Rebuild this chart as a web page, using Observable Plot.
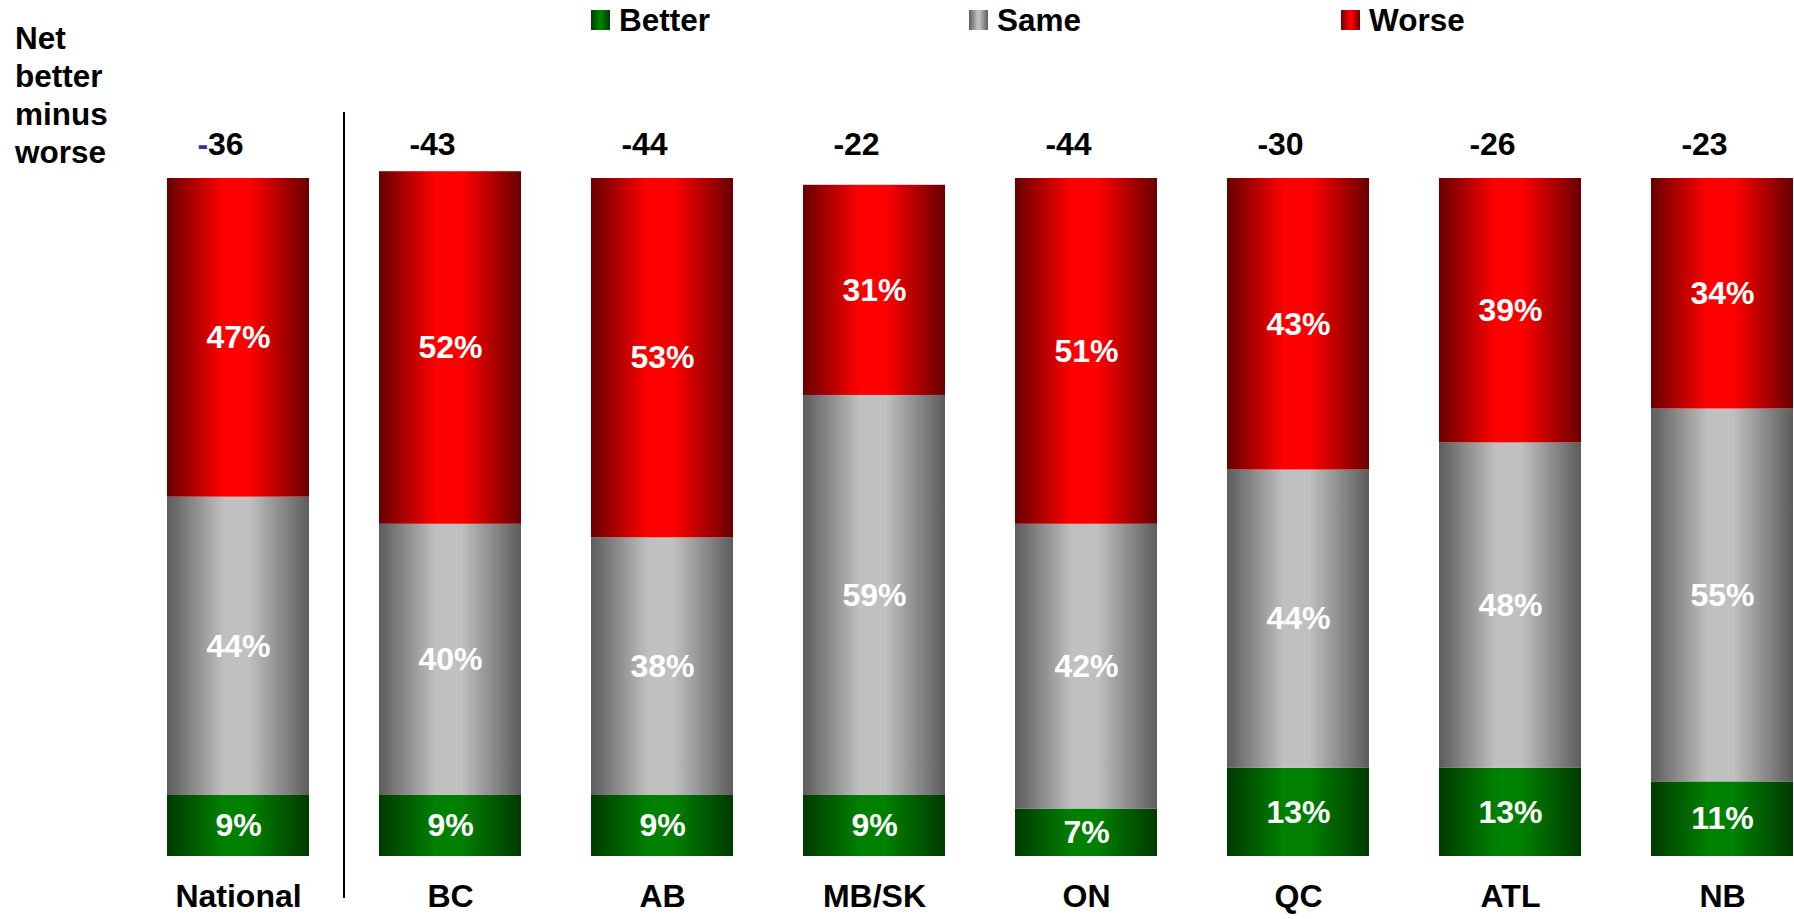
<!DOCTYPE html>
<html>
<head>
<meta charset="utf-8">
<script src="https://cdn.jsdelivr.net/npm/d3@7"></script>
<script src="https://cdn.jsdelivr.net/npm/@observablehq/plot@0.6"></script>
<style>
  html, body { margin: 0; padding: 0; background: #fff; }
  body { font-family: "Liberation Sans", Arial, Helvetica, sans-serif; font-weight: bold; }
  #wrap { position: relative; width: 1794px; height: 919px; overflow: hidden; }
  #title { position: absolute; left: 15px; top: 19px; font-size: 31.5px; line-height: 38px; color: #000; }
  .leg { position: absolute; top: 5px; font-size: 31.5px; line-height: 31px; color: #000; white-space: nowrap; }
  .sw { position: absolute; top: 10px; width: 19px; height: 20px; }
  #chart { position: absolute; left: 0; top: 0; }
</style>
</head>
<body>
<div id="wrap">
  <div id="chart"></div>
  <div id="title">Net<br>better<br>minus<br>worse</div>
</div>
<script>
// ---- data ----
const regions = ["National", "BC", "AB", "MB/SK", "ON", "QC", "ATL", "NB"];
const better  = [9, 9, 9, 9, 7, 13, 13, 11];
const same    = [44, 40, 38, 59, 42, 44, 48, 55];
const worse   = [47, 52, 53, 31, 51, 43, 39, 34];
const net     = [-36, -43, -44, -22, -44, -30, -26, -23];
const seriesNames = ["Better", "Same", "Worse"];

// ---- styles ----
const gradients = {
  Better: ["#003a00", "#008000"],
  Same:   ["#5c5c5c", "#c0c0c0"],
  Worse:  ["#680000", "#ff0000"]
};
const legendLeft = [591, 969, 1341];

const rows = [];
regions.forEach((r, i) => {
  rows.push({region: r, series: "Better", value: better[i]});
  rows.push({region: r, series: "Same", value: same[i]});
  rows.push({region: r, series: "Worse", value: worse[i]});
});
const netRows = regions.map((r, i) => ({region: r, net: net[i]}));

const font = '"Liberation Sans", Arial, Helvetica, sans-serif';

const chart = Plot.plot({
  width: 1794,
  height: 919,
  marginLeft: 166,
  marginRight: 0,
  marginTop: 178,
  marginBottom: 63,
  style: {fontFamily: font, fontWeight: "bold", background: "transparent", overflow: "visible"},
  x: {domain: regions, paddingInner: 0.329, paddingOuter: 0, axis: null},
  y: {domain: [0, 100], axis: null},
  color: {domain: seriesNames, range: seriesNames.map(s => `url(#grad-${s})`)},
  marks: [
    Plot.barY(rows, Plot.stackY({x: "region", y: "value", fill: "series", z: "series"})),
    Plot.text(rows, Plot.stackY({x: "region", y: "value", z: "series",
      text: d => d.value + "%", fill: "white", fontSize: 32, fontWeight: "bold"})),
    Plot.text(netRows, {x: "region", text: d => String(d.net), frameAnchor: "top",
      dy: -46, dx: -18, fontSize: 32, fontWeight: "bold", fill: "black"}),
    Plot.text(regions, {x: d => d, text: d => d, frameAnchor: "bottom",
      dy: 50, fontSize: 32, fontWeight: "bold", fill: "black"})
  ]
});

document.getElementById("chart").appendChild(chart);

// gradient definitions
const svg = d3.select(chart);
const defs = svg.insert("defs", ":first-child");
for (const s of seriesNames) {
  const [dark, bright] = gradients[s];
  const g = defs.append("linearGradient").attr("id", `grad-${s}`)
    .attr("x1", "0").attr("x2", "1").attr("y1", "0").attr("y2", "0");
  [[0, dark], [0.4, bright], [0.58, bright], [1, dark]].forEach(([o, c]) =>
    g.append("stop").attr("offset", o).attr("stop-color", c));
}

// separator between National and the regions
const xs = chart.scale("x");
const sepX = xs.apply(regions[0]) + xs.bandwidth + (xs.step - xs.bandwidth) / 2;
svg.append("line").attr("x1", sepX).attr("x2", sepX)
  .attr("y1", 112).attr("y2", 898).attr("stroke", "#000").attr("stroke-width", 2);

// blue minus sign on the national net value
const natLabel = String(net[0]);
svg.selectAll("text").filter(function () { return this.textContent === natLabel; })
  .each(function () {
    const t = d3.select(this);
    t.text("");
    t.append("tspan").attr("fill", "#333399").text(natLabel.slice(0, 1));
    t.append("tspan").attr("fill", "#000").text(natLabel.slice(1));
  });

// legend
const wrap = document.getElementById("wrap");
seriesNames.forEach((s, i) => {
  const [dark, bright] = gradients[s];
  const sw = document.createElement("div");
  sw.className = "sw";
  sw.style.left = legendLeft[i] + "px";
  sw.style.background = `linear-gradient(to right, ${dark} 0%, ${bright} 45%, ${bright} 55%, ${dark} 100%)`;
  wrap.appendChild(sw);
  const t = document.createElement("div");
  t.className = "leg";
  t.style.left = (legendLeft[i] + 28) + "px";
  t.textContent = s;
  wrap.appendChild(t);
});
</script>
</body>
</html>
